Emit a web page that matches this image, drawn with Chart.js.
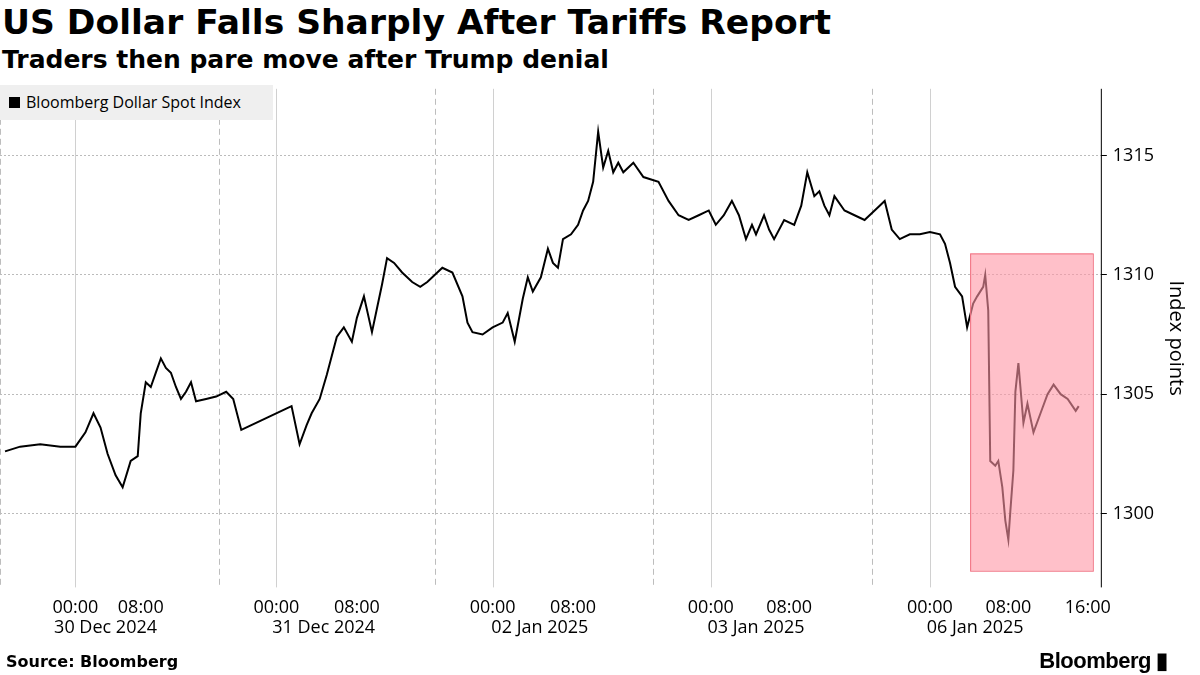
<!DOCTYPE html>
<html><head><meta charset="utf-8">
<script src="https://cdn.jsdelivr.net/npm/chart.js@4"></script>
<style>
body{margin:0;width:1200px;height:675px;background:#fff;font-family:"DejaVu Sans",sans-serif;position:relative;overflow:hidden}
#t{position:absolute;left:2px;top:2px;font-size:34.5px;font-weight:bold;color:#000}
#s{position:absolute;left:2px;top:45px;font-size:25px;font-weight:bold;color:#000}
#src{position:absolute;left:6px;top:652px;font-size:16px;font-weight:bold}
#bb{position:absolute;right:32px;top:648px;font-size:22px;font-weight:bold;letter-spacing:-0.5px;font-family:"Liberation Sans",sans-serif}
#lg{position:absolute;left:0;top:85px;width:273px;height:35px;background:#efefef;font-size:16px;font-family:"Open Sans",sans-serif;line-height:35px}
#lg i{display:inline-block;width:11px;height:11px;background:#000;margin:0 6px 0 9px}
#c{position:absolute;left:0;top:72px}
</style></head><body>
<div id="t">US Dollar Falls Sharply After Tariffs Report</div>
<div id="s">Traders then pare move after Trump denial</div>
<canvas id="c" width="1200" height="603"></canvas>
<div id="lg"><i></i>Bloomberg Dollar Spot Index</div>
<div id="src">Source: Bloomberg</div>
<div id="bb">Bloomberg ▮</div>
<script>
// x = compressed trading-time index (sessions concatenated)
const times=[0.5,2,4,6,7.5,8.5,9.3,10,10.7,11.5,12.2,13,13.7,14,14.5,15,15.5,16,16.5,17,17.5,18,18.5,19,19.5,20.5,21.5,
22.5,23.2,24,25,26,27,28,29,29.8,30.5,31,31.8,32.5,33,33.5,34.2,35,35.5,36.2,37,37.5,38,38.5,39.2,40,41,41.8,42.5,
44,45,46,46.5,47,48,49,50,50.5,51.2,52,52.5,53,53.8,54.5,55,55.5,56,56.8,57.5,58,58.5,59,59.5,60,60.5,61,61.5,62,63,64,
65.5,66.5,67.5,68.5,69.5,70.5,71.2,72,72.8,73.5,74.2,74.8,75.2,76,76.5,77,78,79,79.7,80.3,81,81.5,82,82.5,83,84,85,86,
87.5,88,88.7,89.5,90.5,91.5,92.5,93.5,94,94.5,95,95.7,96.2,96.8,97.2,97.8,98,98.3,98.5,99,99.3,99.7,100,100.3,100.5,100.8,101,101.3,101.8,102.2,102.8,103.5,104.2,104.8,105.5,106.2,107,107.3];
const values=[1302.6,1302.8,1302.9,1302.8,1302.8,1303.4,1304.2,1303.6,1302.5,1301.6,1301.1,1302.2,1302.4,1304.2,1305.5,1305.3,1305.9,1306.5,1306.1,1305.9,1305.3,1304.8,1305.1,1305.5,1304.7,1304.8,1304.9,
1305.1,1304.8,1303.5,1303.7,1303.9,1304.1,1304.3,1304.5,1302.9,1303.7,1304.2,1304.8,1305.8,1306.6,1307.4,1307.8,1307.2,1308.2,1309.1,1307.6,1308.6,1309.6,1310.7,1310.5,1310.1,1309.7,1309.5,1309.7,
1310.3,1310.1,1309.1,1308.0,1307.6,1307.5,1307.8,1308.0,1308.4,1307.2,1309.0,1309.9,1309.3,1309.9,1311.1,1310.5,1310.3,1311.5,1311.7,1312.1,1312.7,1313.1,1313.9,1316.0,1314.5,1315.2,1314.3,1314.7,1314.3,1314.7,1314.1,
1313.9,1313.1,1312.5,1312.3,1312.5,1312.7,1312.1,1312.5,1313.1,1312.5,1311.5,1312.1,1311.7,1312.5,1311.9,1311.5,1312.3,1312.1,1312.9,1314.3,1313.3,1313.5,1312.9,1312.5,1313.3,1312.7,1312.5,1312.3,
1312.9,1313.1,1311.9,1311.5,1311.7,1311.7,1311.8,1311.7,1311.3,1310.5,1309.5,1309.1,1307.8,1308.8,1309.1,1309.5,1310.0,1308.5,1302.2,1302.0,1302.2,1301.1,1299.7,1298.9,1300.1,1301.8,1305.1,1306.3,1303.8,1304.6,1303.4,1304.2,1305.0,1305.4,1305.0,1304.8,1304.3,1304.5];
const tickPos=[7.5,14,27.5,35.5,49,57,70.7,78.5,92.5,100.3,108.2];
const tickLbl=["00:00","08:00","00:00","08:00","00:00","08:00","00:00","08:00","00:00","08:00","16:00"];
const datePos=[10.5,32.2,53.7,75.2,97];
const dateLbl=["30 Dec 2024","31 Dec 2024","02 Jan 2025","03 Jan 2025","06 Jan 2025"];
const sessionBreaks=[0,21.8,43.3,65,86.7];
const midnight=[7.5,27.5,49,70.7,92.5];
const yTicks=[1300,1305,1310,1315];
const box={x0:96.5,x1:108.7,y0:1297.6,y1:1310.9};

const extras={id:'extras',
 beforeDatasetsDraw(ch){const c=ch.ctx,a=ch.chartArea,x=ch.scales.x;c.save();
  c.strokeStyle='#d0d0d0';c.lineWidth=1;
  midnight.forEach(v=>{const p=Math.round(x.getPixelForValue(v))+.5;c.beginPath();c.moveTo(p,a.top);c.lineTo(p,a.bottom);c.stroke();});
  c.setLineDash([6,4]);c.strokeStyle='#bdbdbd';
  sessionBreaks.forEach(v=>{const p=Math.round(x.getPixelForValue(v))+.5;c.beginPath();c.moveTo(p,a.top);c.lineTo(p,a.bottom);c.stroke();});
  c.restore();},
 afterDatasetsDraw(ch){const c=ch.ctx,x=ch.scales.x,y=ch.scales.y,a=ch.chartArea;c.save();
  const X0=x.getPixelForValue(box.x0),X1=x.getPixelForValue(box.x1),Y0=y.getPixelForValue(box.y1),Y1=y.getPixelForValue(box.y0);
  c.fillStyle='rgba(255,150,165,0.6)';c.fillRect(X0,Y0,X1-X0,Y1-Y0);
  c.strokeStyle='#f07080';c.lineWidth=1;c.strokeRect(X0+.5,Y0+.5,X1-X0,Y1-Y0);
  c.strokeStyle='#000';c.beginPath();c.moveTo(a.right+.5,a.top);c.lineTo(a.right+.5,a.bottom);c.stroke();
  c.fillStyle='#000';c.font='18px "Open Sans",sans-serif';c.textAlign='center';c.textBaseline='top';
  datePos.forEach((v,i)=>c.fillText(dateLbl[i],x.getPixelForValue(v),a.bottom+31));
  c.restore();}};

new Chart(document.getElementById('c'),{type:'line',
 data:{datasets:[{data:times.map((t,i)=>({x:t,y:values[i]})),borderColor:'#000',borderWidth:2,pointRadius:0,tension:0}]},
 options:{responsive:false,animation:false,layout:{padding:{top:0,bottom:54,left:0,right:8}},
  plugins:{legend:{display:false},tooltip:{enabled:false}},
  scales:{
   x:{type:'linear',min:0,max:109.5,grid:{display:false},border:{display:false},
    afterBuildTicks(s){s.ticks=tickPos.map(v=>({value:v}));},
    ticks:{autoSkip:false,maxRotation:0,color:'#000',font:{size:18,family:'"Open Sans",sans-serif'},padding:2,
     callback:(v,i)=>tickLbl[i]}},
   y:{position:'right',min:1296.9,max:1317.8,border:{display:false,dash:[2,2]},
    grid:{color:'#bbbbbb',lineWidth:1,tickLength:6,drawTicks:true,tickColor:'#000'},
    afterBuildTicks(s){s.ticks=yTicks.map(v=>({value:v}));},
    ticks:{color:'#000',font:{size:18,family:'"Open Sans",sans-serif'},padding:6,callback:v=>String(v)},
    title:{display:true,text:'Index points',color:'#000',font:{size:20,family:'"Open Sans",sans-serif'}}}}},
 plugins:[extras]});
</script></body></html>
